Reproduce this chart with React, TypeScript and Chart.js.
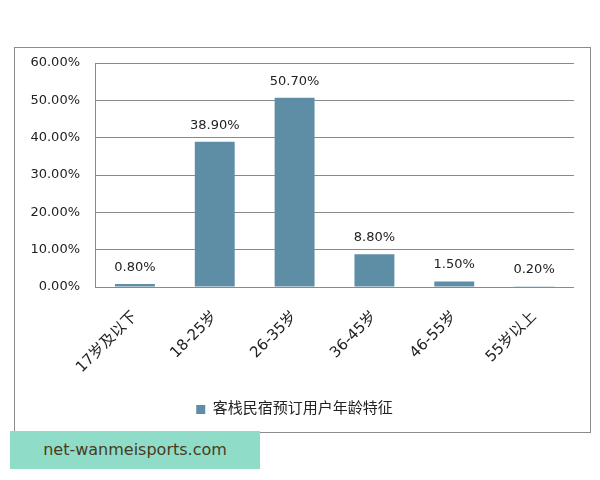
import { useEffect, useRef } from 'react';
import { Chart, registerables } from 'chart.js';

Chart.register(...registerables);

// age groups and share of bookings (%)
const ageGroups = ['17岁及以下', '18-25岁', '26-35岁', '36-45岁', '46-55岁', '55岁以上'];
const shares = [0.8, 38.9, 50.7, 8.8, 1.5, 0.2];
const seriesName = '客栈民宿预订用户年龄特征';
const yTicks = [0, 10, 20, 30, 40, 50, 60];

const FONT = "'DejaVu Sans', 'Noto Sans CJK SC', sans-serif";
const BAR_COLOR = '#5e8ea5';
const GRID_COLOR = '#8a8a8a';

// draws the percentage above each bar
const valueLabels = {
  id: 'valueLabels',
  afterDatasetsDraw(chart: Chart) {
    const ctx = chart.ctx;
    const meta = chart.getDatasetMeta(0);
    ctx.save();
    ctx.font = `13px ${FONT}`;
    ctx.fillStyle = '#222';
    ctx.textAlign = 'center';
    ctx.textBaseline = 'bottom';
    meta.data.forEach((bar: any, i: number) => {
      ctx.fillText(shares[i].toFixed(2) + '%', bar.x, bar.y - 10);
    });
    ctx.restore();
  },
};

export default function App() {
  const canvasRef = useRef<HTMLCanvasElement>(null);
  const chartRef = useRef<Chart | null>(null);

  useEffect(() => {
    if (!canvasRef.current) return;
    const ctx = canvasRef.current.getContext('2d');
    if (!ctx) return;

    if (chartRef.current) chartRef.current.destroy();

    chartRef.current = new Chart(ctx, {
      type: 'bar',
      data: {
        labels: ageGroups,
        datasets: [
          {
            label: seriesName,
            data: shares,
            backgroundColor: BAR_COLOR,
            barPercentage: 0.5,
            categoryPercentage: 1,
          },
        ],
      },
      options: {
        animation: false,
        responsive: false,
        layout: { padding: { top: 15, right: 16, left: 0, bottom: 5 } },
        plugins: {
          tooltip: { enabled: false },
          legend: {
            position: 'bottom',
            labels: {
              boxWidth: 9,
              boxHeight: 9,
              color: '#222',
              font: { family: FONT, size: 15 },
              padding: 10,
            },
          },
        },
        scales: {
          x: {
            grid: { display: false, drawTicks: false },
            border: { display: false },
            ticks: {
              color: '#222',
              font: { family: FONT, size: 15 },
              minRotation: 45,
              maxRotation: 45,
              padding: 21,
            },
            afterFit(scale: any) {
              scale.height = 105;
            },
          },
          y: {
            min: 0,
            max: 60,
            afterBuildTicks(scale: any) {
              scale.ticks = yTicks.map(v => ({ value: v }));
            },
            grid: { color: GRID_COLOR, drawTicks: false },
            border: { color: GRID_COLOR },
            ticks: {
              color: '#222',
              font: { family: FONT, size: 13 },
              padding: 15,
              callback: (v: any) => Number(v).toFixed(2) + '%',
            },
            afterFit(scale: any) {
              scale.width = 80;
              scale.paddingTop = 0;
              scale.paddingBottom = 0;
            },
          },
        },
      },
      plugins: [valueLabels],
    });

    return () => {
      if (chartRef.current) {
        chartRef.current.destroy();
        chartRef.current = null;
      }
    };
  }, []);

  return (
    <div style={{ position: 'relative', width: 600, height: 480, margin: -8, background: '#fff' }}>
      <div
        style={{
          position: 'absolute',
          left: 14,
          top: 47,
          width: 575,
          height: 384,
          border: '1px solid #8c8c8c',
        }}
      >
        <canvas ref={canvasRef} width={575} height={384} style={{ display: 'block' }} />
      </div>
      <div
        style={{
          position: 'absolute',
          left: 10,
          top: 431,
          width: 250,
          height: 38,
          background: '#8fdcc9',
          color: '#4a3b20',
          fontFamily: "'DejaVu Sans', sans-serif",
          fontSize: 16,
          lineHeight: '38px',
          textAlign: 'center',
        }}
      >
        net-wanmeisports.com
      </div>
    </div>
  );
}
